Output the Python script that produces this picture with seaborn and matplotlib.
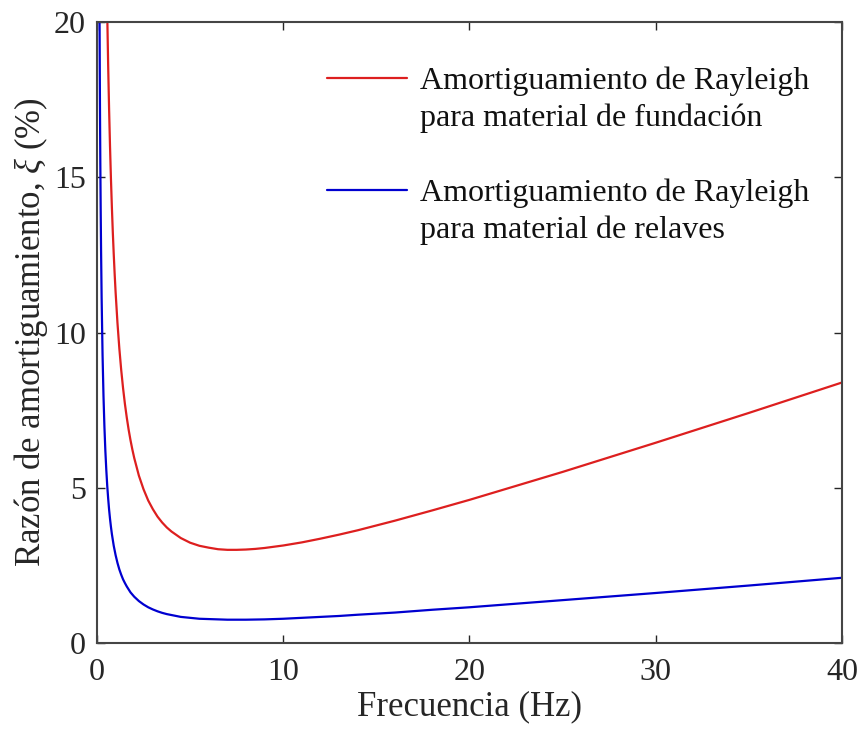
import matplotlib
matplotlib.use("Agg")
import matplotlib.pyplot as plt
from matplotlib.legend_handler import HandlerLine2D
from matplotlib.lines import Line2D
import pandas as pd
import seaborn as sns

# Damping ratio (%) versus frequency (Hz) for the two Rayleigh damping fits
freq_fundacion = [0.50, 0.55, 0.60, 0.65, 0.70, 0.75, 0.80, 0.85, 0.90, 0.95, 1.0, 1.1,
                  1.2, 1.3, 1.4, 1.5, 1.6, 1.7, 1.8, 1.9, 2.0, 2.25, 2.5, 2.75, 3.0,
                  3.25, 3.5, 3.75, 4.0, 4.5, 5.0, 5.5, 6.0, 6.5, 7.0, 7.5, 8.0, 8.5,
                  9.0, 10, 11, 12, 13, 14, 16, 18, 20, 25, 30, 35, 40]
xi_fundacion = [22.30, 20.29, 18.62, 17.21, 16.00, 14.95, 14.04, 13.23, 12.52, 11.88,
                11.30, 10.31, 9.49, 8.80, 8.21, 7.70, 7.26, 6.87, 6.53, 6.23, 5.96,
                5.39, 4.95, 4.59, 4.31, 4.07, 3.88, 3.72, 3.59, 3.38, 3.23, 3.13,
                3.07, 3.02, 3.00, 3.00, 3.01, 3.03, 3.06, 3.14, 3.24, 3.36, 3.49,
                3.63, 3.94, 4.27, 4.61, 5.51, 6.45, 7.41, 8.39]

freq_relaves = [0.12, 0.13, 0.14, 0.15, 0.16, 0.18, 0.20, 0.22, 0.25, 0.30, 0.35, 0.40,
                0.45, 0.50, 0.55, 0.60, 0.65, 0.70, 0.75, 0.80, 0.90, 1.0, 1.1, 1.2,
                1.3, 1.4, 1.5, 1.6, 1.8, 2.0, 2.25, 2.5, 2.75, 3.0, 3.25, 3.5, 3.75,
                4.0, 4.5, 5.0, 5.5, 6.0, 6.5, 7.0, 7.5, 8.0, 9.0, 10, 11, 12, 13, 14,
                16, 18, 20, 25, 30, 35, 40]
xi_relaves = [23.13, 21.35, 19.83, 18.51, 17.35, 15.43, 13.89, 12.63, 11.11, 9.27, 7.95,
              6.96, 6.19, 5.58, 5.07, 4.66, 4.30, 4.00, 3.74, 3.51, 3.13, 2.83, 2.58,
              2.37, 2.20, 2.05, 1.93, 1.82, 1.63, 1.49, 1.35, 1.24, 1.15, 1.08, 1.02,
              0.97, 0.93, 0.90, 0.84, 0.81, 0.78, 0.77, 0.76, 0.75, 0.75, 0.75, 0.76,
              0.78, 0.81, 0.84, 0.87, 0.91, 0.98, 1.07, 1.15, 1.38, 1.61, 1.85, 2.10]

label_fundacion = "Amortiguamiento de Rayleigh\npara material de fundación"
label_relaves = "Amortiguamiento de Rayleigh\npara material de relaves"

x_ticks = [0, 10, 20, 30, 40]
y_ticks = [0, 5, 10, 15, 20]

FS_TICK = 23
FS_LABEL = 25
FS_LEG = 23
LINESPACING = 1.34

df = pd.concat([
    pd.DataFrame({"f": freq_fundacion, "xi": xi_fundacion, "serie": label_fundacion}),
    pd.DataFrame({"f": freq_relaves, "xi": xi_relaves, "serie": label_relaves}),
], ignore_index=True)

sns.set_style("ticks")
plt.rcParams["font.family"] = ["Liberation Serif", "DejaVu Serif"]
plt.rcParams["mathtext.fontset"] = "custom"
plt.rcParams["mathtext.rm"] = "Liberation Serif"
plt.rcParams["mathtext.it"] = "Liberation Serif:italic"
plt.rcParams["xtick.direction"] = "in"
plt.rcParams["ytick.direction"] = "in"


class FirstLineHandler(HandlerLine2D):
    """Legend line drawn level with the first line of a two-line label."""

    def create_artists(self, legend, orig_handle, xdescent, ydescent, width,
                       height, fontsize, trans):
        artists = super().create_artists(legend, orig_handle, xdescent, ydescent,
                                         width, height, fontsize, trans)
        shift = fontsize * 0.68
        for a in artists:
            if isinstance(a, Line2D):
                a.set_ydata([y + shift for y in a.get_ydata()])
        return artists


fig = plt.figure(figsize=(8.62, 7.35), dpi=100)
ax = fig.add_axes([0.1125, 0.1252, 0.8643, 0.8448])

sns.lineplot(data=df, x="f", y="xi", hue="serie", sort=False, estimator=None,
             palette={label_fundacion: "#dd1f1f", label_relaves: "#0000d0"},
             linewidth=1.6, ax=ax)

ax.set_xlim(0, 40)
ax.set_ylim(0, 20)
ax.set_xticks(x_ticks)
ax.set_yticks(y_ticks)
ax.tick_params(axis="both", which="both", labelsize=FS_TICK, colors="#262626",
               length=6, width=1.0, top=True, right=True)
ax.tick_params(axis="x", pad=11)
ax.tick_params(axis="y", pad=8)
for s in ax.spines.values():
    s.set_visible(True)
    s.set_color("#454545")
    s.set_linewidth(1.5)

ax.set_xlabel("Frecuencia (Hz)", fontsize=FS_LABEL, color="#262626", labelpad=2)
ax.set_ylabel(r"Razón de amortiguamiento, $\mathit{\xi}$ (%)", fontsize=FS_LABEL,
              color="#262626", labelpad=3)

handles, labels = ax.get_legend_handles_labels()
leg = ax.legend(handles, labels, loc="upper right", frameon=False, fontsize=FS_LEG,
                handlelength=2.5, handletextpad=0.4, labelspacing=1.4,
                borderaxespad=1.0, bbox_to_anchor=(1.016, 1.0),
                handler_map={Line2D: FirstLineHandler()})
for t in leg.get_texts():
    t.set_linespacing(LINESPACING)
    t.set_color("#111111")

fig.savefig("out.png", dpi=100)
